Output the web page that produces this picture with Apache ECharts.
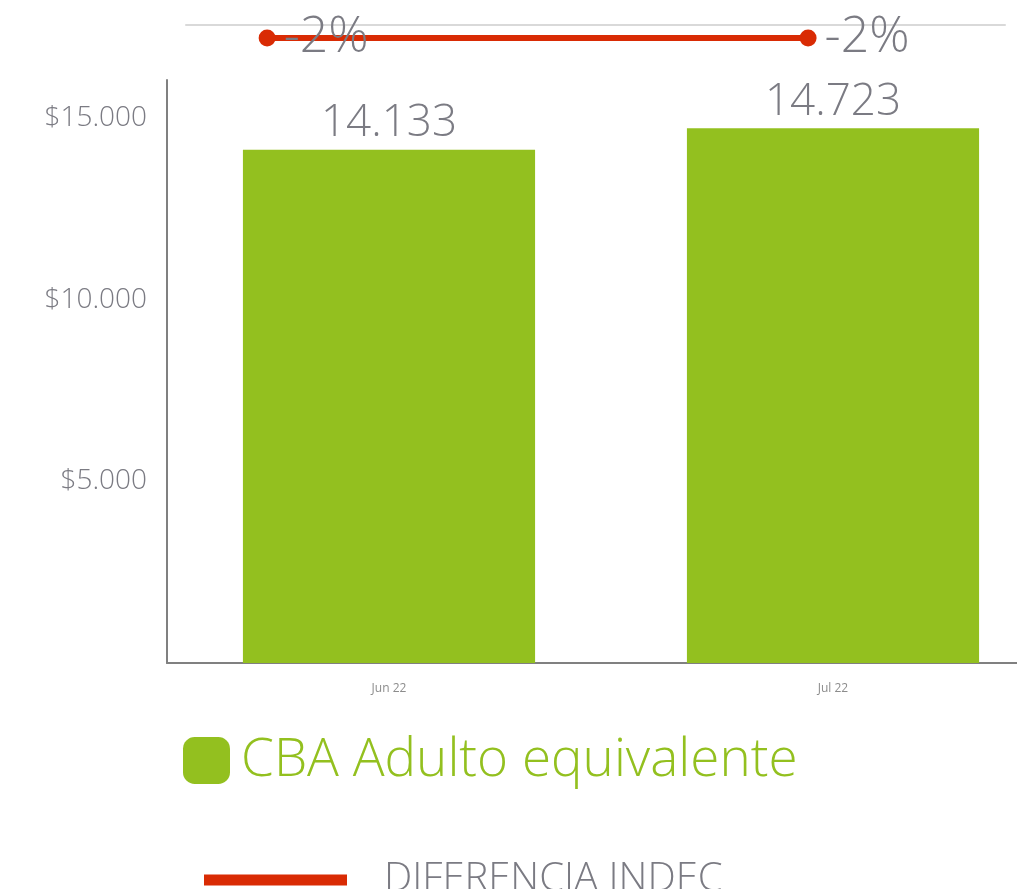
<!DOCTYPE html>
<html>
<head>
<meta charset="utf-8">
<script src="https://cdn.jsdelivr.net/npm/echarts@6/dist/echarts.min.js"></script>
<style>
  html, body { margin: 0; padding: 0; background: #ffffff; }
  #chart { width: 1017px; height: 889px; }
</style>
</head>
<body>
<div id="chart"></div>
<script>
// Monthly basic food basket (CBA) per adult equivalent, and its gap against INDEC
const months = ['Jun 22', 'Jul 22'];
const cbaValues = [14133, 14723];
const indecDiff = [-2, -2];
const yTicks = [5000, 10000, 15000];

const GREEN = '#93c01f';
const RED = '#d92b04';
const GREY_TEXT = '#7b7b83';
const FONT = '"Open Sans", Lato, sans-serif';

const fmtThousands = v => String(Math.round(v)).replace(/\B(?=(\d{3})+(?!\d))/g, '.');

const chart = echarts.init(document.getElementById('chart'));

chart.setOption({
  animation: false,
  backgroundColor: '#ffffff',
  textStyle: { fontFamily: FONT },
  grid: [
    // the bar area runs past the right edge of the canvas
    { left: 167, top: 80, bottom: 226, width: 888, outerBoundsMode: 'none', containLabel: false },
    { left: 186, right: 12, top: 25, height: 26 }
  ],
  legend: [
    {
      data: [{ name: 'CBA Adulto equivalente', icon: 'roundRect' }],
      left: 178, top: 729,
      itemWidth: 47, itemHeight: 47,
      textStyle: { fontFamily: FONT, fontSize: 53, fontWeight: 300, color: GREEN, padding: [0, 0, 0, 6] }
    },
    {
      data: [{ name: 'DIFERENCIA INDEC', icon: 'rect' }],
      left: 199, top: 855,
      itemWidth: 143, itemHeight: 11,
      itemStyle: { color: RED },
      textStyle: { fontFamily: FONT, fontSize: 40, fontWeight: 300, color: GREY_TEXT, padding: [0, 0, 22, 32] }
    }
  ],
  xAxis: [
    {
      type: 'category', gridIndex: 0, data: months,
      axisLine: { lineStyle: { color: '#808080', width: 2 } },
      axisTick: { show: false },
      axisLabel: { color: '#8c8c8c', fontSize: 12, margin: 20 }
    },
    {
      type: 'value', gridIndex: 1, min: -0.15, max: 1.364,
      axisLine: { show: true, onZero: true, lineStyle: { color: '#d9d9d9', width: 2 } },
      axisTick: { show: false }, axisLabel: { show: false }, splitLine: { show: false }
    }
  ],
  yAxis: [
    {
      type: 'value', gridIndex: 0, min: 0, max: 16050, interval: 5000,
      axisLine: { show: true, lineStyle: { color: '#808080', width: 2 } },
      axisTick: { show: false },
      splitLine: { show: false },
      axisLabel: {
        showMaxLabel: false,
        color: GREY_TEXT, fontSize: 28, fontWeight: 300, margin: 20,
        formatter: v => (yTicks.indexOf(v) >= 0 ? '$' + fmtThousands(v) : '')
      }
    },
    {
      type: 'value', gridIndex: 1, min: -4, max: 0,
      axisLine: { show: false }, axisTick: { show: false },
      axisLabel: { show: false }, splitLine: { show: false }
    }
  ],
  series: [
    {
      name: 'CBA Adulto equivalente',
      type: 'bar', xAxisIndex: 0, yAxisIndex: 0,
      data: cbaValues,
      barWidth: '65.8%',
      itemStyle: { color: GREEN },
      label: {
        show: true, position: 'top', distance: 4,
        color: GREY_TEXT, fontSize: 44, fontWeight: 300,
        formatter: p => fmtThousands(p.value)
      }
    },
    {
      name: 'DIFERENCIA INDEC',
      type: 'line', xAxisIndex: 1, yAxisIndex: 1,
      data: indecDiff.map((v, i) => [i, v]),
      lineStyle: { color: RED, width: 6 },
      itemStyle: { color: RED },
      symbol: 'circle', symbolSize: 17,
      label: {
        show: true, position: 'right', distance: 8,
        color: GREY_TEXT, fontSize: 50, fontWeight: 300,
        formatter: p => Math.round(p.value[1]) + '%'
      }
    }
  ]
});
</script>
</body>
</html>
